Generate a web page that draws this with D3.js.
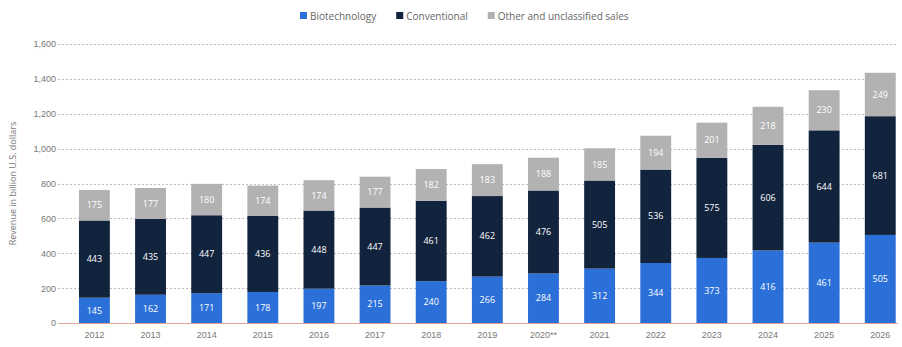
<!DOCTYPE html>
<html>
<head>
<meta charset="utf-8">
<script src="https://cdn.jsdelivr.net/npm/d3@7"></script>
<style>
  html, body { margin: 0; padding: 0; background: #fff; }
  svg { display: block; font-family: "Open Sans", "Noto Sans", sans-serif; }
</style>
</head>
<body>
<svg id="chart" width="902" height="347"></svg>
<script>
// Prescription drug sales by technology, billion U.S. dollars
const years = ["2012","2013","2014","2015","2016","2017","2018","2019","2020**","2021","2022","2023","2024","2025","2026"];
const biotechnology = [145, 162, 171, 178, 197, 215, 240, 266, 284, 312, 344, 373, 416, 461, 505];
const conventional = [443, 435, 447, 436, 448, 447, 461, 462, 476, 505, 536, 575, 606, 644, 681];
const otherSales = [175, 177, 180, 174, 174, 177, 182, 183, 188, 185, 194, 201, 218, 230, 249];
const yTicks = [0, 200, 400, 600, 800, 1000, 1200, 1400, 1600];
const seriesNames = ["Biotechnology", "Conventional", "Other and unclassified sales"];
const seriesColors = ["#2b6fd8", "#12233d", "#b2b2b2"];

const svg = d3.select("#chart");
const margin = { left: 58, right: 2, top: 44, bottom: 24 };
const W = 902, H = 347;

const rows = years.map((y, i) => ({
  year: y,
  Biotechnology: biotechnology[i],
  Conventional: conventional[i],
  "Other and unclassified sales": otherSales[i]
}));

const stack = d3.stack().keys(seriesNames)(rows);

const x = d3.scaleBand()
  .domain(years)
  .range([margin.left, W - margin.right])
  .paddingInner(0.45)
  .paddingOuter(0.225)
  .align(0.83);

const y = d3.scaleLinear()
  .domain([0, 1600])
  .range([H - margin.bottom, margin.top]);

// Gridlines
svg.append("g")
  .selectAll("line")
  .data(yTicks.filter(d => d > 0))
  .join("line")
  .attr("x1", margin.left)
  .attr("x2", W - 4)
  .attr("y1", d => Math.round(y(d)) + 0.5)
  .attr("y2", d => Math.round(y(d)) + 0.5)
  .attr("stroke", "#bdbdbd")
  .attr("stroke-width", 1)
  .attr("stroke-dasharray", "2,2");

// Y axis labels
const yAxis = d3.axisLeft(y)
  .tickValues(yTicks)
  .tickSize(0)
  .tickPadding(0)
  .tickFormat(d3.format(","));
svg.append("g")
  .attr("transform", `translate(${margin.left - 2},0)`)
  .call(yAxis)
  .call(g => g.select(".domain").remove())
  .call(g => g.selectAll("text").attr("fill", "#777").attr("font-size", 9));

// Y axis title
svg.append("text")
  .attr("transform", `translate(16,${(margin.top + H - margin.bottom) / 2}) rotate(-90)`)
  .attr("text-anchor", "middle")
  .attr("fill", "#777")
  .attr("font-size", 9)
  .text("Revenue in billion U.S. dollars");

// Stacked bars
const layers = svg.append("g")
  .selectAll("g")
  .data(stack)
  .join("g")
  .attr("fill", (d, i) => seriesColors[i]);

layers.selectAll("rect")
  .data(d => d)
  .join("rect")
  .attr("x", d => x(d.data.year))
  .attr("width", x.bandwidth())
  .attr("y", d => y(d[1]))
  .attr("height", d => y(d[0]) - y(d[1]));

// Value labels inside segments
layers.selectAll("text")
  .data(d => d.map(v => ({ v, key: d.key })))
  .join("text")
  .attr("x", d => x(d.v.data.year) + x.bandwidth() / 2)
  .attr("y", d => (y(d.v[0]) + y(d.v[1])) / 2)
  .attr("dy", "0.35em")
  .attr("text-anchor", "middle")
  .attr("fill", "#fff")
  .attr("font-size", 9)
  .text(d => d.v.data[d.key]);

// X axis
const xAxis = d3.axisBottom(x).tickSize(0).tickPadding(9);
svg.append("g")
  .attr("transform", `translate(0,${y(0)})`)
  .call(xAxis)
  .call(g => g.select(".domain").remove())
  .call(g => g.selectAll("text").attr("fill", "#777").attr("font-size", 9));

svg.append("line")
  .attr("x1", margin.left)
  .attr("x2", W - 4)
  .attr("y1", Math.round(y(0)) + 0.5)
  .attr("y2", Math.round(y(0)) + 0.5)
  .attr("stroke", "#e3a394")
  .attr("stroke-width", 1);

// Legend
const legend = svg.append("g").attr("transform", "translate(300,16)");
let lx = 0;
seriesNames.forEach((name, i) => {
  const item = legend.append("g").attr("transform", `translate(${lx},0)`);
  item.append("rect")
    .attr("x", 0).attr("y", -4)
    .attr("width", 7).attr("height", 7)
    .attr("fill", seriesColors[i]);
  const t = item.append("text")
    .attr("x", 10)
    .attr("y", 0)
    .attr("dy", "0.35em")
    .attr("fill", "#666")
    .attr("font-size", 10)
    .text(name);
  lx += 10 + t.node().getComputedTextLength() + 20;
});
</script>
</body>
</html>
